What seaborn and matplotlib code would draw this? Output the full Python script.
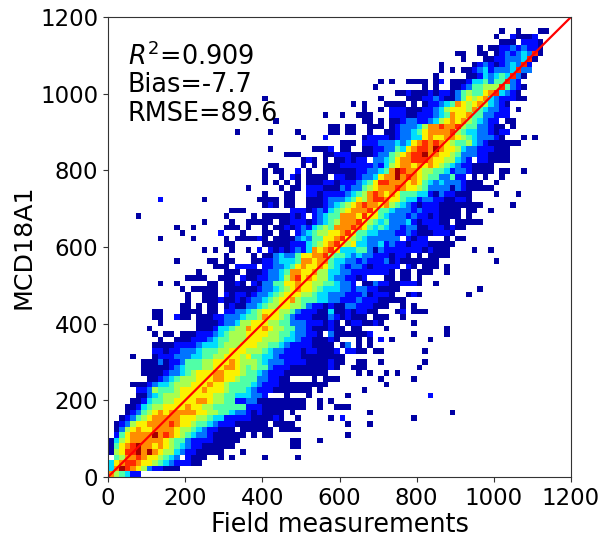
import numpy as np
import matplotlib
matplotlib.use("Agg")
import matplotlib.pyplot as plt
import seaborn as sns

# density levels, bottom row first ("." = empty, 1 navy ... A dark red)
density_rows = [
    "865422",
    "48A9876322 111",
    "4789987765 4322211",
    ".568898776 543.2111.. 1.1.....1. ....1",
    "16799A8A87 6643221111 1...1",
    "15789A8878 7654322111 111....... ...11",
    "1467888888 7655322221 1111...... ...11...1",
    ".2578888A8 9876543321 11111.1.11 .......... ...1",
    ".136787788 8876654322 111.111111 .1111",
    ".123677888 8987765543 222111111. 1111...... ...1...1..",
    "..12356788 8887776654 4222221111 21..1..... 1.2....... .....1",
    "...1235678 7888887766 5543321211 11.1...... .......1.. .......... ..1",
    "...1124566 7777877665 5555522211 111111..1. .111",
    "....112455 6677778876 6552233111 111111..1. 1",
    ".....11345 6667777776 6554443 32. ..1...1... ...1...... ........2.",
    ".....22365 5567777877 7655543222 1111111.1. ......1",
    "....111234 4566677787 7655554322 2111111111 .......... 1",
    ".......112 3456667778 8776555332 211....1.1 11.......1 .....1",
    "......1111 2334567778 8777655432 2211111111 .....1.1.. 1.1",
    "......1111 1234555667 7887656553 2221111111 21..111... ......1",
    "......1113 1223555667 7787666543 3322221111 211..11..1 .......1",
    "....1...12 2233344556 6777675544 3222211111 111",
    "........22 1223334555 6677766654 3322212211 12.2211.11 .......1",
    "........11 1122223444 5666777665 5432222111 1.13.1.1",
    ".........1 ..11122234 5566677766 6544322111 21...1.1.2 .1......1",
    "........1. 11.1112223 4566677776 6554332 21. 31111112.. .....1.... .1",
    ".......1.. ......1112 4456687787 6655332111 211.11.... 1......... .1",
    ".........1 ......1111 2334667776 6553332221 21.1221121 .....1",
    "........11 ..211.1112 2333455687 7653222111 3212111.11 1..1",
    "........11 ...1111.11 .223345677 7665322211 411212211. ..12.111",
    ".......... ...11.1.11 .121133456 6776653221 2113322211 1..1.1",
    ".......... ....1..111 2112123345 6778655544 3322232221 1111",
    ".......... ....1..111 .212212334 5677766544 3332223122 21..121... .....1",
    ".......... ...1.11111 .111111233 4567877654 4433233221 111....... .......1",
    ".........1 ..1.....11 .1121.2133 5577877665 54332.1132 2112221..1",
    ".......... ....1111.. 111.211223 3468978766 4332212... 11.11.1",
    ".......... ......1... .111.11123 3458877866 4433222222 21.11.111. .1",
    ".......... .........1 11.2222.22 3345787787 5432332122 222.21.111 .1",
    ".......... ..1.....11 .11...1122 3444588788 5443323222 3121111111 .......... 1",
    ".......... .......... .1....1.11 3433577889 6554343322 21221.1.11 11",
    ".......... .......1.1 ..1..1.2.2 1212324878 9744455313 2222222121 11....1..1",
    ".......... .......... .11.....11 1112224567 8976744334 2322122211 111",
    ".........1 .....1.... .1.111121. 1111343557 7897654333 333.2122.. .1.11",
    ".......... ...1...... 2...1...11 .11.234566 7789755443 3322321112 221",
    ".......... ..1..1.... .111.1..1. 1121232456 5888987545 4332331122 21211",
    ".......... .......1.. ..1..11111 .112221234 5688897654 5333421222 11.11111",
    ".....1.... .......... .1....1.11 111212.234 5588879775 4333232212 1111.1",
    ".......... .......... ..111..... ...2221232 4567888975 5433323222 1111.11..1",
    ".......... .......... ........12 1.11..1112 3456789887 8654321222 11111111 .. ...1",
    ".........2 .......1.. .......111 1.11..1112 3334576899 8775442332 211221",
    ".......... .......... ........1. ..11..2212 2223456898 7875554421 322111.... 1...1",
    ".......... .......... .....1.... .1.11.2221 1132335678 8898776533 3313211111",
    ".......... .......... ........1. 1.1.1.1112 2122234579 9888787543 43332111.. 1",
    ".......... .......... ........1. .1.21.1111 .221123347 88A8987655 33522.1.1. .1",
    ".......... .......... ........1. 11..2.1..1 1111122334 58A9887665 5423321111 .11..1",
    ".......... .......... .........1 1....1.1.1 1122222232 4678878787 6543221111",
    ".......... .......... .......... .....121.1 .112122.33 4578899987 766432.221 111",
    ".......... .......... .......... ..111....1 1222111123 3567899A88 7765333221 111",
    ".......... .......... .........1 .......111 2.11..1122 335478998A 8776433222 111",
    ".......... .......... .......... .......... ..111.2223 3343478989 8765564321 11111",
    ".......... .......... .......... .....1...2 ......1222 2123344787 7887654333 21...1.1",
    ".......... .......... ...1.....1 ....1..... 11.11..1.. 1123345788 8896544332 122",
    ".......... .......... .......... .......... 11.11..111 .123334688 9889655332 11.1",
    ".......... .......... .......... 1......... ......11.1 .112332234 6787865432 2.11",
    ".......... .......... .......... .........1 ..1..111.. .222112223 4587785533 222",
    ".......... .......... .......... .......... ......1..1 .222111223 4677768543 322.1",
    ".......... .......... .......... .......... ....1.1... 1111.1.122 3458767864 321",
    ".......... .......... ........1. .......... .........1 ....111223 2113576784 322211",
    ".......... .......... .......... .......... .......... ..11211121 2213565578 94321",
    ".......... .......... .......... .......... ........1. .......1.1 ..11235566 695321",
    ".......... .......... .......... .......... .........1 .1..1111.1 2.11124453 55932",
    ".......... .......... .......... .......... .......... .........1 .....11243 454931",
    ".......... .......... .......... .......... .......... .......... 1.1.112342 3334933",
    ".......... .......... .......... .......... .......... .......... 1.....1232 1234392",
    ".......... .......... .......... .......... .......... .......... ....1...11 22333491",
    ".......... .......... .......... .......... .......... .......... ...11..11. 123234391",
    ".......... .......... .......... .......... .......... .......... .......1.1 122323221",
    ".......... .......... .......... .......... .......... .......... .......... .111.2221",
    ".......... .......... .......... .......... .......... .......... .......... 1..21112",
    ".......... .......... .......... .......... .......... .......... .......... .1..1...11",
    "",
    "",
]
n_cols = 84
level_names = ".123456789A"
tick_values = [0, 200, 400, 600, 800, 1000, 1200]
axis_max = 1200
stats_lines = ["$R^2$=0.909", "Bias=-7.7", "RMSE=89.6"]

grid = np.full((len(density_rows), n_cols), np.nan)
for j, row in enumerate(density_rows):
    row = row.replace(" ", "")
    for i, ch in enumerate(row[:n_cols]):
        if ch != ".":
            grid[j, i] = level_names.index(ch)

fig = plt.figure(figsize=(6.01, 5.39), dpi=100)
ax = fig.add_axes([108 / 601, 62 / 539, 463 / 601, 460 / 539])
sns.heatmap(grid, ax=ax, cmap="jet", vmin=0.7, vmax=10.3, cbar=False,
            xticklabels=False, yticklabels=False)
ax.set_ylim(0, grid.shape[0])
ax.set_xlim(0, n_cols)

ax.plot([0, 1], [0, 1], transform=ax.transAxes, color="red", lw=1.6)

ax.set_xticks(np.array(tick_values) * n_cols / axis_max)
ax.set_xticklabels(tick_values, rotation=0)
ax.set_yticks(np.array(tick_values) * grid.shape[0] / axis_max)
ax.set_yticklabels(tick_values, rotation=0)
ax.tick_params(axis="both", length=3.5, width=0.8, labelsize=16.5, pad=3.5, color="#333333")
ax.set_xlabel("Field measurements", fontsize=18.4, labelpad=2)
ax.set_ylabel("MCD18A1", fontsize=18.2, labelpad=3)
for spine in ax.spines.values():
    spine.set_visible(True)
    spine.set_linewidth(0.8)
    spine.set_color("#333333")

for k, line in enumerate(stats_lines):
    ax.text(0.043, 0.914 - k * 0.0625, line, transform=ax.transAxes,
            fontsize=18.4, va="center", ha="left")

fig.savefig("out.png", dpi=100)
